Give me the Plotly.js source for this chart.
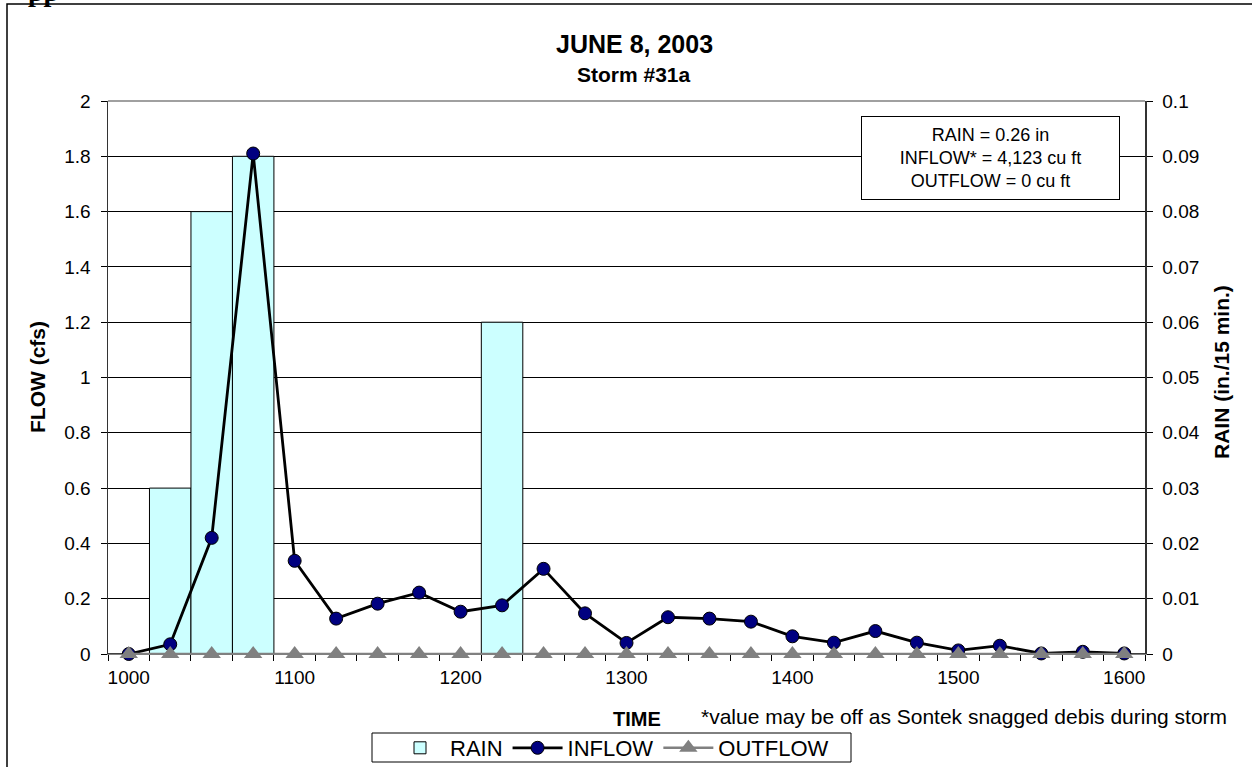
<!DOCTYPE html>
<html>
<head>
<meta charset="utf-8">
<script src="https://cdn.plot.ly/plotly-3.0.1.min.js"></script>
<style>html,body{margin:0;padding:0;background:#fff;}#chart{width:1252px;height:767px;}</style>
</head>
<body>
<div id="chart"></div>
<script>
// Time of day (HHMM), 15-minute steps
const times = ["1000","1015","1030","1045","1100","1115","1130","1145","1200","1215","1230","1245",
               "1300","1315","1330","1345","1400","1415","1430","1445","1500","1515","1530","1545","1600"];
const tickLabels = ["1000","","","","1100","","","","1200","","","","1300","","","","1400","","","","1500","","","","1600"];
// Rain (in./15 min.)
const rain = [0,0.03,0.08,0.09,0,0,0,0,0,0.06,0,0,0,0,0,0,0,0,0,0,0,0,0,0,0];
// Inflow (cfs)
const inflow = [0,0.035,0.42,1.81,0.337,0.128,0.182,0.222,0.153,0.176,0.308,0.147,
                0.040,0.133,0.128,0.117,0.064,0.041,0.083,0.041,0.013,0.030,0.002,0.008,0.002];
// Outflow (cfs)
const outflow = [0,0,0,0,0,0,0,0,0,0,0,0,0,0,0,0,0,0,0,0,0,0,0,0,0];

const FONT = "Arial, 'Liberation Sans', sans-serif";
const W = 1252, H = 767;
const L = 108, R = 1145, T = 101, B = 654;
const px = x => (x - L) / (R - L);
const py = y => (B - y) / (B - T);

const traces = [
  {type:"bar", name:"RAIN", x:times, y:rain, yaxis:"y",
   marker:{color:"#CCFFFF", line:{color:"#000", width:1}}},
  {type:"scatter", mode:"lines+markers", name:"INFLOW", x:times, y:inflow, yaxis:"y2",
   cliponaxis:false, line:{color:"#000", width:2.8},
   marker:{symbol:"circle", size:13, color:"#000080", line:{color:"#000", width:1}}},
  {type:"scatter", mode:"lines+markers", name:"OUTFLOW", x:times, y:outflow, yaxis:"y2",
   cliponaxis:false, line:{color:"#808080", width:2.5},
   marker:{symbol:"triangle-up", size:16, color:"#808080"}}
];

const layout = {
  width:W, height:H,
  margin:{l:L, r:W-R, t:T, b:H-B, pad:0},
  paper_bgcolor:"#fff", plot_bgcolor:"#fff",
  font:{family:FONT, size:19, color:"#000"},
  bargap:0,
  showlegend:true,
  legend:{orientation:"h", xref:"container", yref:"container", x:612/W, xanchor:"center",
          y:(H-748)/H, yanchor:"middle",
          borderwidth:0, font:{family:FONT, size:22, color:"#000"},
          itemwidth:50, tracegroupgap:0, bgcolor:"rgba(0,0,0,0)"},
  xaxis:{type:"category", tickmode:"array", tickvals:times, ticktext:tickLabels,
         tickson:"boundaries", ticks:"outside", ticklen:6, tickcolor:"#000", tickangle:0,
         ticklabelstandoff:6, automargin:false,
         showline:true, linecolor:"#808080", linewidth:1, showgrid:false,
         tickfont:{family:FONT, size:19}, range:[-0.5, 24.5]},
  yaxis:{range:[0,0.1], dtick:0.01, side:"right", showgrid:true, gridcolor:"#000", gridwidth:1,
         zeroline:false, ticks:"outside", ticklen:6, tickcolor:"#000", ticklabelstandoff:6, automargin:false,
         showline:true, linecolor:"#333", linewidth:1.5, tickfont:{family:FONT, size:19}},
  yaxis2:{range:[0,2], dtick:0.2, side:"left", overlaying:"y", showgrid:false, zeroline:false,
          ticks:"outside", ticklen:6, tickcolor:"#000", ticklabelstandoff:6, automargin:false,
          showline:true, linecolor:"#333", linewidth:1.5, tickfont:{family:FONT, size:19}},
  shapes:[
    {type:"rect", xref:"paper", yref:"paper", x0:px(7), x1:px(1270), y0:py(790), y1:py(4),
     line:{color:"#000", width:1.5}, fillcolor:"rgba(0,0,0,0)", layer:"below"},
    {type:"line", xref:"paper", yref:"paper", x0:0, x1:1, y0:1, y1:1,
     line:{color:"#808080", width:1.5}},
    {type:"rect", xref:"paper", yref:"paper", x0:px(372), x1:px(851), y0:py(762), y1:py(733),
     line:{color:"#000", width:1}, fillcolor:"#fff", layer:"below"}
  ],
  annotations:[
    {xref:"paper", yref:"paper", x:px(634), y:py(44), text:"<b>JUNE 8, 2003</b>", showarrow:false,
     font:{family:FONT, size:25}, xanchor:"center", yanchor:"middle"},
    {xref:"paper", yref:"paper", x:px(634), y:py(74), text:"<b>Storm #31a</b>", showarrow:false,
     font:{family:FONT, size:21}, xanchor:"center", yanchor:"middle"},
    {xref:"paper", yref:"paper", x:px(37), y:py(377), text:"<b>FLOW (cfs)</b>", showarrow:false,
     textangle:-90, font:{family:FONT, size:21}, xanchor:"center", yanchor:"middle"},
    {xref:"paper", yref:"paper", x:px(1221), y:py(372), text:"<b>RAIN (in./15 min.)</b>", showarrow:false,
     textangle:-90, font:{family:FONT, size:21}, xanchor:"center", yanchor:"middle"},
    {xref:"paper", yref:"paper", x:px(637), y:py(719), text:"<b>TIME</b>", showarrow:false,
     font:{family:FONT, size:20}, xanchor:"center", yanchor:"middle"},
    {xref:"paper", yref:"paper", x:px(699), y:py(716), text:"*value may be off as Sontek snagged debis during storm",
     showarrow:false, font:{family:FONT, size:21}, xanchor:"left", yanchor:"middle"},
    {xref:"paper", yref:"paper", x:px(990), y:py(158),
     text:"RAIN = 0.26 in<br>INFLOW* = 4,123 cu ft<br>OUTFLOW = 0 cu ft",
     showarrow:false, font:{family:FONT, size:18}, align:"center", valign:"middle",
     width:255, height:80, bordercolor:"#000", borderwidth:1, bgcolor:"#fff", borderpad:1,
     xanchor:"center", yanchor:"middle"},
    {xref:"paper", yref:"paper", x:px(26), y:py(9), text:"<b>pp</b>", showarrow:false,
     font:{family:"'Liberation Serif', 'Times New Roman', serif", size:28}, xanchor:"left", yanchor:"bottom"}
  ]
};

Plotly.newPlot("chart", traces, layout, {displayModeBar:false, staticPlot:true});
</script>
</body>
</html>
